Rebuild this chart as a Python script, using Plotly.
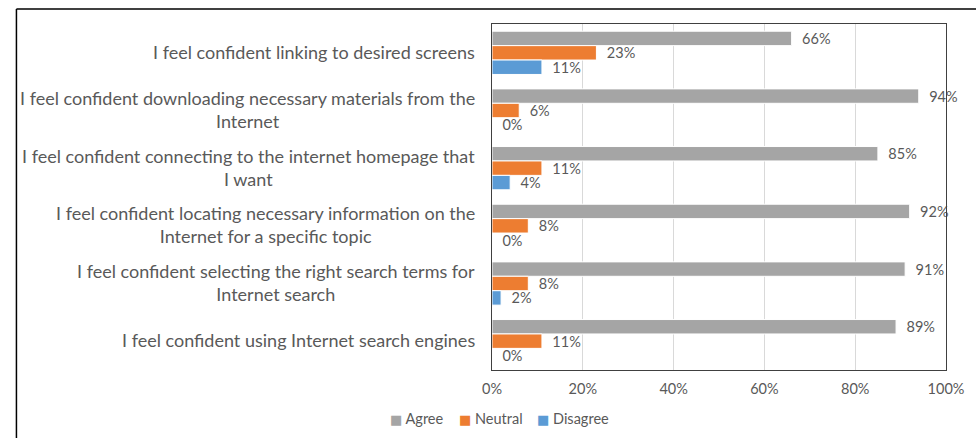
import plotly.graph_objects as go

statements = [
    "I feel confident linking to desired screens",
    "I feel confident downloading necessary materials from the<br>Internet",
    "I feel confident connecting to the internet homepage that<br>I want",
    "I feel confident locating necessary information on the<br>Internet for a specific topic",
    "I feel confident selecting the right search terms for<br>Internet search",
    "I feel confident using Internet search engines",
]
cat_ids = ["c1", "c2", "c3", "c4", "c5", "c6"]
agree = [66, 94, 85, 92, 91, 89]
neutral = [23, 6, 11, 8, 8, 11]
disagree = [11, 0, 4, 0, 2, 0]
x_ticks = [0, 20, 40, 60, 80, 100]

series = [
    ("Agree", agree, "#A5A5A5"),
    ("Neutral", neutral, "#ED7D31"),
    ("Disagree", disagree, "#5B9BD5"),
]

TEXT = "#595959"
FONT = "Lato"
PAD = "\u00a0\u00a0"

fig = go.Figure()
for name, vals, color in series:
    fig.add_trace(go.Bar(
        name=name,
        y=cat_ids,
        x=vals,
        orientation="h",
        marker=dict(color=color, line=dict(color="white", width=1)),
        text=[f"{PAD}{v}%" for v in vals],
        textposition="outside",
        constraintext="none",
        cliponaxis=False,
        textfont=dict(family=FONT, size=14.5, color=TEXT),
        hoverinfo="skip",
        showlegend=False,
    ))

# statement labels, right-aligned block with centred lines
for cid, label in zip(cat_ids, statements):
    fig.add_annotation(
        x=-0.034, xref="paper", xanchor="right",
        y=cid, yref="y", yanchor="middle", yshift=1,
        text=label, align="center", showarrow=False,
        font=dict(family=FONT, size=18, color=TEXT),
    )

# compact legend row below the axis
legend_x = [-0.2289, -0.0778, 0.0950]
for (name, _, color), lx in zip(series, legend_x):
    fig.add_annotation(
        x=lx, xref="paper", xanchor="left",
        y=-0.1416, yref="paper", yanchor="middle",
        text=f"<span style='color:{color};font-family:DejaVu Sans;font-size:13px'>■</span> {name}",
        showarrow=False, align="left",
        font=dict(family=FONT, size=14.5, color=TEXT),
    )

# outer frame edges (top and left)
fig.add_shape(type="line", xref="paper", yref="paper",
              x0=-1.0475, x1=1.1, y0=1.0434, y1=1.0434,
              line=dict(color="black", width=1.5))
fig.add_shape(type="line", xref="paper", yref="paper",
              x0=-1.0475, x1=-1.0475, y0=1.0434, y1=-0.25,
              line=dict(color="black", width=1.5))

fig.update_layout(
    width=976, height=438,
    margin=dict(l=492, r=21, t=24, b=68),
    paper_bgcolor="white", plot_bgcolor="white",
    barmode="group", bargap=0.25, bargroupgap=0,
    showlegend=False,
    xaxis=dict(range=[0, 100], tickvals=x_ticks,
               ticktext=[f"{t}%" for t in x_ticks],
               showgrid=True, gridcolor="#D9D9D9", gridwidth=1,
               zeroline=False, showline=True, mirror=True,
               linecolor="#404040", linewidth=1,
               ticks="outside", ticklen=6, tickcolor="rgba(0,0,0,0)",
               tickfont=dict(family=FONT, size=14.5, color=TEXT)),
    yaxis=dict(autorange="reversed", showticklabels=False,
               showline=True, mirror=True, linecolor="#404040", linewidth=1,
               showgrid=False, ticks=""),
)

fig.write_html("out.html")
